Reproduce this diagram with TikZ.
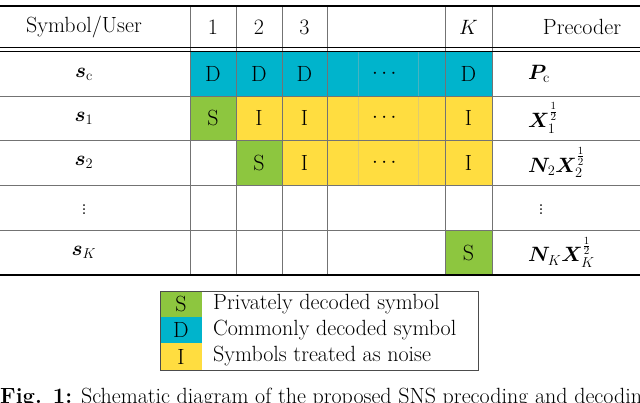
\documentclass[tikz,border=0pt]{standalone}
\usepackage{amsmath,bm}
\definecolor{cD}{RGB}{0,180,204}
\definecolor{cS}{RGB}{141,198,63}
\definecolor{cI}{RGB}{255,221,64}
\begin{document}
\begin{tikzpicture}[x=1pt,y=-1pt,
  txt/.style={font=\fontsize{22}{26}\selectfont,inner sep=0pt},
  grid/.style={draw=black!55,line width=0.8pt},
  rule/.style={draw=black,line width=1.2pt}]
\useasboundingbox (0,0) rectangle (640,402);
\clip (0,0) rectangle (640,402);
% fills
\fill[cD] (190,52) rectangle (492,96);
\fill[cS] (190,96) rectangle (236,140);
\fill[cI] (236,96) rectangle (492,140);
\fill[cS] (236,140) rectangle (282,185);
\fill[cI] (282,140) rectangle (492,185);
\fill[cS] (445,230) rectangle (492,275);
\foreach \x in {358,418} \draw[white!70!black,line width=0.4pt,opacity=0.4] (\x,52) -- (\x,185);
\foreach \x in {190,236,282,327,445,492} \draw[grid] (\x,6) -- (\x,275);
\foreach \y in {96,140,185,230} \draw[grid] (0,\y) -- (640,\y);
\draw[rule] (0,6) -- (640,6);
\draw[draw=black,line width=0.8pt] (0,47) -- (640,47);
\draw[draw=black,line width=0.8pt] (0,51.5) -- (640,51.5);
\draw[rule] (0,275) -- (640,275);
% header
\node[txt] (h0) at (84,27) {Symbol/User};
\node[txt] (h1) at (213,27) {1};
\node[txt] (h2) at (259,27) {2};
\node[txt] (h3) at (304.5,27) {3};
\node[txt] (hK) at (468.5,27) {$K$};
\node[txt] (hP) at (582,27) {Precoder};
% row labels
\node[txt] (r0) at (84,74) {$\bm{s}_{\mathrm{c}}$};
\node[txt] (r1) at (84,118) {$\bm{s}_1$};
\node[txt] (r2) at (84,162.5) {$\bm{s}_2$};
\node[txt] (r3) at (84,207) {$\vdots$};
\node[txt] (r4) at (84,252.5) {$\bm{s}_K$};
% row c
\node[txt] (c01) at (213,74) {D};
\node[txt] (c02) at (259,74) {D};
\node[txt] (c03) at (304.5,74) {D};
\node[txt] (c04) at (386,74) {$\cdots$};
\node[txt] (c0K) at (468.5,74) {D};
\node[txt,anchor=west] (p0) at (528,74) {$\bm{P}_{\mathrm{c}}$};
% row 1
\node[txt] (c11) at (213,118) {S};
\node[txt] (c12) at (259,118) {I};
\node[txt] (c13) at (304.5,118) {I};
\node[txt] (c14) at (386,118) {$\cdots$};
\node[txt] (c1K) at (468.5,118) {I};
\node[txt,anchor=west] (p1) at (528,118) {$\bm{X}_1^{\frac{1}{2}}$};
% row 2
\node[txt] (c22) at (259,162.5) {S};
\node[txt] (c23) at (304.5,162.5) {I};
\node[txt] (c24) at (386,162.5) {$\cdots$};
\node[txt] (c2K) at (468.5,162.5) {I};
\node[txt,anchor=west] (p2) at (528,162.5) {$\bm{N}_2\bm{X}_2^{\frac{1}{2}}$};
\node[txt] (p3) at (541,207) {$\vdots$};
% row K
\node[txt] (cKK) at (468.5,252.5) {S};
\node[txt,anchor=west] (pK) at (528,252.5) {$\bm{N}_K\bm{X}_K^{\frac{1}{2}}$};
% legend
\fill[cS] (160,291) rectangle (202,317);
\fill[cD] (160,317) rectangle (202,343);
\fill[cI] (160,343) rectangle (202,370);
\draw[draw=black!70,line width=0.8pt] (160,291) rectangle (478,370);
\node[txt] (lS) at (181,304) {S};
\node[txt] (lD) at (181,330) {D};
\node[txt] (lI) at (181,356.5) {I};
\node[txt,anchor=west] (tS) at (213,304) {Privately decoded symbol};
\node[txt,anchor=west] (tD) at (213,330) {Commonly decoded symbol};
\node[txt,anchor=west] (tI) at (213,356.5) {Symbols treated as noise};
% caption
\node[txt,anchor=west] (cap) at (0,398) {\textbf{Fig. 1:} Schematic diagram of the proposed SNS precoding and decoding};
\end{tikzpicture}
\end{document}
